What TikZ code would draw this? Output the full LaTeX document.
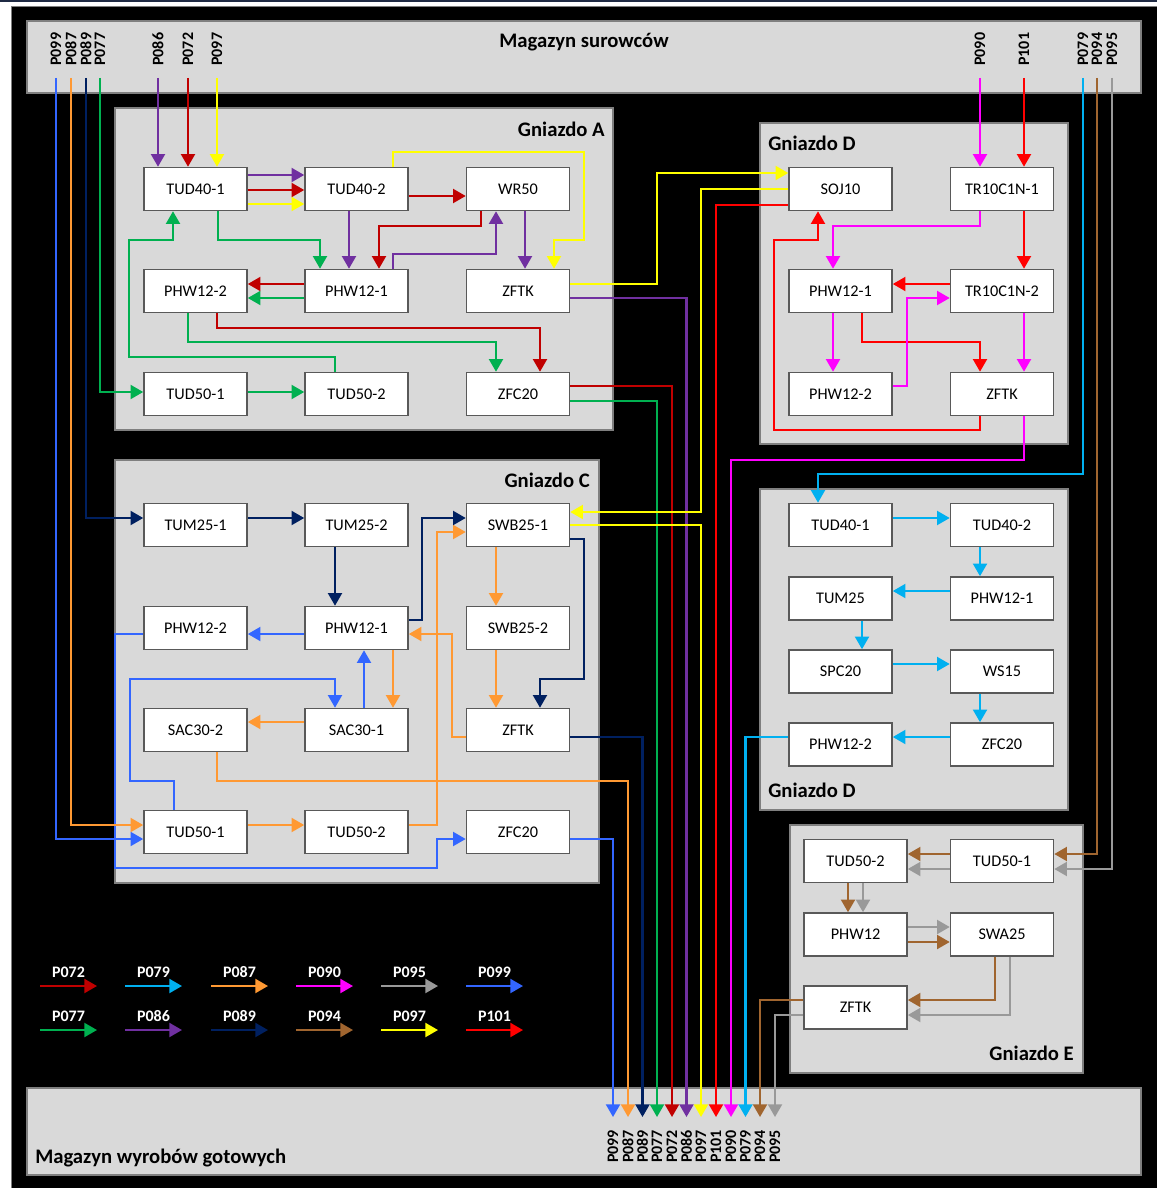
\documentclass[tikz,border=0pt]{standalone}
\usepackage{fontspec}
\setmainfont{Carlito}
\usetikzlibrary{arrows.meta}
\definecolor{c072}{HTML}{C00000}
\definecolor{c079}{HTML}{00B0F0}
\definecolor{c087}{HTML}{FF9933}
\definecolor{c090}{HTML}{FF00FF}
\definecolor{c095}{HTML}{999999}
\definecolor{c099}{HTML}{3366FF}
\definecolor{c077}{HTML}{00B050}
\definecolor{c086}{HTML}{7030A0}
\definecolor{c089}{HTML}{002060}
\definecolor{c094}{HTML}{A0652F}
\definecolor{c097}{HTML}{FFFF00}
\definecolor{c101}{HTML}{FF0000}
\definecolor{grpfill}{HTML}{D9D9D9}
\definecolor{grpline}{HTML}{7F7F7F}
\definecolor{boxline}{HTML}{595959}
\definecolor{topline}{HTML}{1F2A44}
\begin{document}
\begin{tikzpicture}[x=0.75pt,y=-0.75pt,
  >={Triangle[length=9.5pt,width=10.5pt]},
  fl/.style={draw=#1,line width=1.6pt},
  grp/.style={fill=grpfill,draw=grpline,line width=1.5pt},
  mbox/.style={draw=boxline,fill=white,line width=1.2pt,minimum width=77.25pt,minimum height=32.25pt,inner sep=0pt,font=\fontsize{12.2pt}{14pt}\selectfont},
  title/.style={inner sep=0pt,font=\fontsize{15.5pt}{18pt}\selectfont\bfseries},
  plab/.style={inner sep=0pt,rotate=90,anchor=west,font=\fontsize{12pt}{14pt}\selectfont\bfseries},
  leg/.style={inner sep=0pt,text=white,font=\fontsize{12pt}{14pt}\selectfont\bfseries}]
\useasboundingbox (0,0) rectangle (1157,1188);
\fill[white] (0,0) rectangle (1157,1188);
\fill[black] (12,6) rectangle (1157,1188);
\draw[topline,line width=1.5pt] (0,1.5) -- (1157,1.5);
\draw[grpline,line width=0.8pt] (11.5,1188) -- (11.5,6.5) -- (1157,6.5);

% storages
\draw[grp] (27,21) rectangle (1141,93);
\draw[grp] (27,1088) rectangle (1141,1175);
\node[title,anchor=base] (magS) at (584,48) {Magazyn surowców};
\node[title,anchor=base west] (magW) at (35,1163) {Magazyn wyrobów gotowych};

% groups
\draw[grp] (115,108) rectangle (613,430);
\draw[grp] (115,460) rectangle (598.5,883);
\draw[grp] (760,123) rectangle (1068,444);
\draw[grp] (760,489) rectangle (1068,810);
\draw[grp] (789.5,825) rectangle (1083,1073);
\node[title,anchor=east] (gA) at (605,129) {Gniazdo A};
\node[title,anchor=east] (gC) at (590,480) {Gniazdo C};
\node[title,anchor=west] (gD1) at (768,143) {Gniazdo D};
\node[title,anchor=west] (gD2) at (768,790) {Gniazdo D};
\node[title,anchor=east] (gE) at (1074,1053) {Gniazdo E};

% top labels and ports
\foreach \n/\x in {099/56,087/71,089/86,077/100,086/158,072/188,097/217,090/980,101/1024,079/1083,094/1097,095/1112}{
  \node[plab] (lt\n) at (\x,66) {P\n};
  \coordinate (t\n) at (\x,78);
}
% bottom labels and ports
\foreach \n/\x in {099/613,087/628,089/642.5,077/657,072/672,086/686.5,097/701,101/716,090/731,079/745.5,094/760,095/775}{
  \node[plab] (lb\n) at (\x,1163) {P\n};
  \coordinate (b\n) at (\x,1117);
}

% Gniazdo A nodes
\node[mbox] (A1) at (195.5,189) {TUD40-1};
\node[mbox] (A2) at (356.5,189) {TUD40-2};
\node[mbox] (A3) at (518,189) {WR50};
\node[mbox] (A4) at (195.5,291) {PHW12-2};
\node[mbox] (A5) at (356.5,291) {PHW12-1};
\node[mbox] (A6) at (518,291) {ZFTK};
\node[mbox] (A7) at (195.5,394) {TUD50-1};
\node[mbox] (A8) at (356.5,394) {TUD50-2};
\node[mbox] (A9) at (518,394) {ZFC20};
% Gniazdo C nodes
\node[mbox] (C1) at (195.5,525) {TUM25-1};
\node[mbox] (C2) at (356.5,525) {TUM25-2};
\node[mbox] (C3) at (518,525) {SWB25-1};
\node[mbox] (C4) at (195.5,628) {PHW12-2};
\node[mbox] (C5) at (356.5,628) {PHW12-1};
\node[mbox] (C6) at (518,628) {SWB25-2};
\node[mbox] (C7) at (195.5,730) {SAC30-2};
\node[mbox] (C8) at (356.5,730) {SAC30-1};
\node[mbox] (C9) at (518,730) {ZFTK};
\node[mbox] (C10) at (195.5,832) {TUD50-1};
\node[mbox] (C11) at (356.5,832) {TUD50-2};
\node[mbox] (C12) at (518,832) {ZFC20};
% Gniazdo D (top)
\node[mbox] (D1) at (840.5,189) {SOJ10};
\node[mbox] (D2) at (1002,189) {TR10C1N-1};
\node[mbox] (D3) at (840.5,291) {PHW12-1};
\node[mbox] (D4) at (1002,291) {TR10C1N-2};
\node[mbox] (D5) at (840.5,394) {PHW12-2};
\node[mbox] (D6) at (1002,394) {ZFTK};
% Gniazdo D (bottom)
\node[mbox] (E1) at (840.5,525) {TUD40-1};
\node[mbox] (E2) at (1002,525) {TUD40-2};
\node[mbox] (E3) at (840.5,598.5) {TUM25};
\node[mbox] (E4) at (1002,598.5) {PHW12-1};
\node[mbox] (E5) at (840.5,671.5) {SPC20};
\node[mbox] (E6) at (1002,671.5) {WS15};
\node[mbox] (E7) at (840.5,744.5) {PHW12-2};
\node[mbox] (E8) at (1002,744.5) {ZFC20};
% Gniazdo E
\node[mbox] (F1) at (855.5,861) {TUD50-2};
\node[mbox] (F2) at (1002,861) {TUD50-1};
\node[mbox] (F3) at (855.5,934.5) {PHW12};
\node[mbox] (F4) at (1002,934.5) {SWA25};
\node[mbox] (F5) at (855.5,1007.5) {ZFTK};

% P099
\draw[fl=c099,->] (t099) |- (C10.west |- 0,839);
\draw[fl=c099,->] (174,0 |- C10.north) |- (130,781) |- (335,679) -- (335,0 |- C8.north);
\draw[fl=c099,->] (364,0 |- C8.north) -- (364,0 |- C5.south);
\draw[fl=c099,->] (C5.west |- 0,634) -- (C4.east |- 0,634);
\draw[fl=c099,->] (C4.west |- 0,634) -| (115,868) -| (437,839) -- (C12.west |- 0,839);
\draw[fl=c099,->] (C12.east |- 0,839) -| (b099);
% P087
\draw[fl=c087,->] (t087) |- (C10.west |- 0,825);
\draw[fl=c087,->] (C10.east |- 0,825) -- (C11.west |- 0,825);
\draw[fl=c087,->] (C11.east |- 0,825) -| (437,532) -- (C3.west |- 0,532);
\draw[fl=c087,->] (496,0 |- C3.south) -- (496,0 |- C6.north);
\draw[fl=c087,->] (496,0 |- C6.south) -- (496,0 |- C9.north);
\draw[fl=c087,->] (C9.west |- 0,737) -| (452,634) -- (C5.east |- 0,634);
\draw[fl=c087,->] (393,0 |- C5.south) -- (393,0 |- C8.north);
\draw[fl=c087,->] (C8.west |- 0,722) -- (C7.east |- 0,722);
\draw[fl=c087,->] (217,0 |- C7.south) |- (628,781) -- (b087);
% P089
\draw[fl=c089,->] (t089) |- (C1.west |- 0,518);
\draw[fl=c089,->] (C1.east |- 0,518) -- (C2.west |- 0,518);
\draw[fl=c089,->] (335,0 |- C2.south) -- (335,0 |- C5.north);
\draw[fl=c089,->] (C5.east |- 0,620) -| (422,518) -- (C3.west |- 0,518);
\draw[fl=c089,->] (C3.east |- 0,539) -| (584,679) -| (540,0 |- C9.north);
\draw[fl=c089,->] (C9.east |- 0,737) -| (b089);
% P077
\draw[fl=c077,->] (t077) |- (A7.west |- 0,392);
\draw[fl=c077,->] (A7.east |- 0,392) -- (A8.west |- 0,392);
\draw[fl=c077,->] (335,0 |- A8.north) |- (129,357) |- (173,240) -- (173,0 |- A1.south);
\draw[fl=c077,->] (218,0 |- A1.south) |- (320,240) -- (320,0 |- A5.north);
\draw[fl=c077,->] (A5.west |- 0,298) -- (A4.east |- 0,298);
\draw[fl=c077,->] (188,0 |- A4.south) |- (496,342) -- (496,0 |- A9.north);
\draw[fl=c077,->] (A9.east |- 0,401) -| (b077);
% P072
\draw[fl=c072,->] (t072) -- (t072 |- A1.north);
\draw[fl=c072,->] (A1.east |- 0,190) -- (A2.west |- 0,190);
\draw[fl=c072,->] (A2.east |- 0,196) -- (A3.west |- 0,196);
\draw[fl=c072,->] (481,0 |- A3.south) |- (379,226) -- (379,0 |- A5.north);
\draw[fl=c072,->] (A5.west |- 0,284) -- (A4.east |- 0,284);
\draw[fl=c072,->] (217,0 |- A4.south) |- (540,328) -- (540,0 |- A9.north);
\draw[fl=c072,->] (A9.east |- 0,386) -| (b072);
% P086
\draw[fl=c086,->] (t086) -- (t086 |- A1.north);
\draw[fl=c086,->] (A1.east |- 0,175) -- (A2.west |- 0,175);
\draw[fl=c086,->] (349,0 |- A2.south) -- (349,0 |- A5.north);
\draw[fl=c086,->] (393,0 |- A5.north) |- (496,254) -- (496,0 |- A3.south);
\draw[fl=c086,->] (525,0 |- A3.south) -- (525,0 |- A6.north);
\draw[fl=c086,->] (A6.east |- 0,298) -| (b086);
% P097
\draw[fl=c097,->] (t097) -- (t097 |- A1.north);
\draw[fl=c097,->] (A1.east |- 0,204) -- (A2.west |- 0,204);
\draw[fl=c097,->] (393,0 |- A2.north) |- (584,152) |- (554,240) -- (554,0 |- A6.north);
\draw[fl=c097,->] (A6.east |- 0,284) -| (657,173) -- (D1.west |- 0,173);
\draw[fl=c097,->] (D1.west |- 0,189) -| (701,512) -- (C3.east |- 0,512);
\draw[fl=c097,->] (C3.east |- 0,525) -| (b097);
% P101
\draw[fl=c101,->] (t101) -- (t101 |- D2.north);
\draw[fl=c101,->] (1024,0 |- D2.south) -- (1024,0 |- D4.north);
\draw[fl=c101,->] (D4.west |- 0,284) -- (D3.east |- 0,284);
\draw[fl=c101,->] (862,0 |- D3.south) |- (980,342) -- (980,0 |- D6.north);
\draw[fl=c101,->] (980,0 |- D6.south) |- (774,430) |- (818,240) -- (818,0 |- D1.south);
\draw[fl=c101,->] (D1.west |- 0,205) -| (b101);
% P090
\draw[fl=c090,->] (t090) -- (t090 |- D2.north);
\draw[fl=c090,->] (980,0 |- D2.south) |- (833,226) -- (833,0 |- D3.north);
\draw[fl=c090,->] (833,0 |- D3.south) -- (833,0 |- D5.north);
\draw[fl=c090,->] (D5.east |- 0,386) -| (907,298) -- (D4.west |- 0,298);
\draw[fl=c090,->] (1024,0 |- D4.south) -- (1024,0 |- D6.north);
\draw[fl=c090,->] (1024,0 |- D6.south) |- (731,460) -- (b090);
% P079
\draw[fl=c079,->] (t079) |- (818,474) -- (818,0 |- E1.north);
\draw[fl=c079,->] (E1.east |- 0,518) -- (E2.west |- 0,518);
\draw[fl=c079,->] (980,0 |- E2.south) -- (980,0 |- E4.north);
\draw[fl=c079,->] (E4.west |- 0,591) -- (E3.east |- 0,591);
\draw[fl=c079,->] (862,0 |- E3.south) -- (862,0 |- E5.north);
\draw[fl=c079,->] (E5.east |- 0,664) -- (E6.west |- 0,664);
\draw[fl=c079,->] (980,0 |- E6.south) -- (980,0 |- E8.north);
\draw[fl=c079,->] (E8.west |- 0,737) -- (E7.east |- 0,737);
\draw[fl=c079,->] (E7.west |- 0,737) -| (b079);
% P094
\draw[fl=c094,->] (t094) |- (F2.east |- 0,854);
\draw[fl=c094,->] (F2.west |- 0,854) -- (F1.east |- 0,854);
\draw[fl=c094,->] (848,0 |- F1.south) -- (848,0 |- F3.north);
\draw[fl=c094,->] (F3.east |- 0,942) -- (F4.west |- 0,942);
\draw[fl=c094,->] (995,0 |- F4.south) |- (F5.east |- 0,1000);
\draw[fl=c094,->] (F5.west |- 0,1000) -| (b094);
% P095
\draw[fl=c095,->] (t095) |- (F2.east |- 0,869);
\draw[fl=c095,->] (F2.west |- 0,869) -- (F1.east |- 0,869);
\draw[fl=c095,->] (863,0 |- F1.south) -- (863,0 |- F3.north);
\draw[fl=c095,->] (F3.east |- 0,927) -- (F4.west |- 0,927);
\draw[fl=c095,->] (1010,0 |- F4.south) |- (F5.east |- 0,1015);
\draw[fl=c095,->] (F5.west |- 0,1015) -| (b095);

% legend
\foreach \c/\t/\x/\y in {c072/P072/40/986,c079/P079/125/986,c087/P087/211/986,c090/P090/296/986,c095/P095/381/986,c099/P099/466/986,
  c077/P077/40/1030,c086/P086/125/1030,c089/P089/211/1030,c094/P094/296/1030,c097/P097/381/1030,c101/P101/466/1030}{
  \coordinate (ls\t) at (\x,\y);
  \coordinate (le\t) at (\x+57,\y);
  \draw[fl=\c,->] (ls\t) -- (le\t);
  \node[leg] (L\t) at (\x+28.5,\y-14) {\t};
}
\end{tikzpicture}
\end{document}
